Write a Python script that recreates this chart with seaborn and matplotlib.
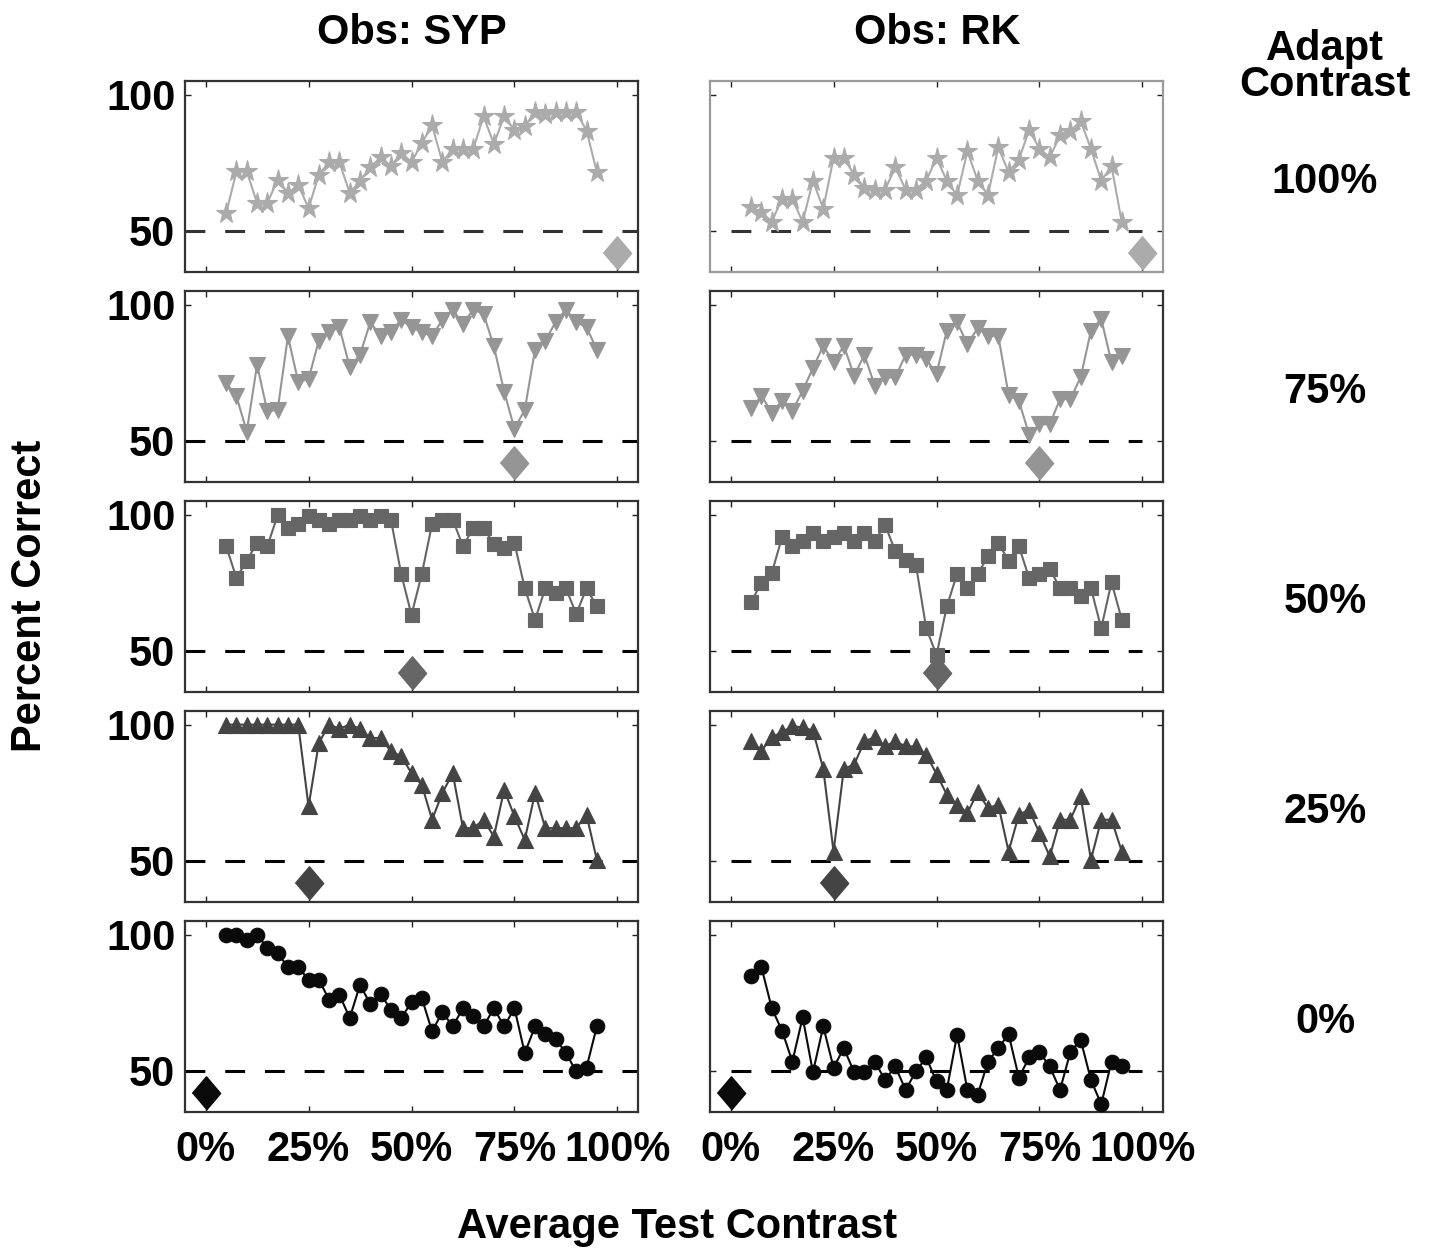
import matplotlib
matplotlib.use("Agg")
import matplotlib.pyplot as plt
import seaborn as sns

# average test contrast (%) of each test block
test_contrast = [5, 7.5, 10, 12.5, 15, 17.5, 20, 22.5, 25, 27.5, 30, 32.5, 35,
                 37.5, 40, 42.5, 45, 47.5, 50, 52.5, 55, 57.5, 60, 62.5, 65,
                 67.5, 70, 72.5, 75, 77.5, 80, 82.5, 85, 87.5, 90, 92.5, 95]

adapt_contrast = [100, 75, 50, 25, 0]
adapt_labels = ["100%", "75%", "50%", "25%", "0%"]
observers = ["SYP", "RK"]
chance_level = 50
x_ticks = [0, 25, 50, 75, 100]
x_ticklabels = ["0%", "25%", "50%", "75%", "100%"]
y_ticks = [50, 100]

# percent correct, observer SYP
syp_100 = [56.5, 71.8, 71.8, 60.2, 60.2, 68.8, 63.8, 66.9, 58.3, 70.6, 75.2, 75.2, 63.8,
           68.4, 73.3, 77.0, 73.7, 78.6, 75.2, 82.2, 88.7, 75.2, 80.1, 80.1, 80.1,
           92.0, 81.9, 92.0, 87.1, 88.4, 93.6, 92.9, 93.6, 93.6, 93.6, 86.8, 71.6]
syp_75 = [71.2, 66.3, 53.4, 77.9, 60.8, 61.4, 88.4, 71.6, 72.7, 86.8, 90.0, 91.7, 77.0,
          81.6, 93.6, 88.4, 90.0, 94.5, 91.7, 90.0, 88.4, 94.5, 98.2, 92.9, 98.2,
          96.6, 84.7, 68.1, 54.4, 61.4, 83.5, 86.8, 93.6, 98.2, 93.6, 91.7, 83.5]
syp_50 = [88.4, 76.7, 83.1, 89.6, 88.4, 99.8, 95.1, 96.6, 99.4, 98.2, 96.6, 98.2, 98.2,
          99.4, 98.2, 99.4, 98.2, 78.2, 63.2, 78.2, 96.6, 98.2, 98.2, 88.4, 95.1,
          95.1, 89.2, 87.7, 89.6, 73.0, 61.4, 73.0, 71.2, 73.0, 63.5, 73.0, 66.3]
syp_25 = [100, 100, 100, 100, 100, 100, 100, 100, 70.0, 93.3, 100, 98.5, 100,
          98.5, 95.1, 95.1, 90.2, 88.4, 82.2, 77.9, 65.1, 74.9, 82.2, 62.0, 62.0,
          65.1, 58.9, 76.1, 66.3, 57.7, 74.9, 62.0, 62.0, 62.0, 62.0, 66.9, 50.4]
syp_0 = [99.8, 99.8, 98.2, 100, 95.1, 93.3, 88.0, 88.0, 83.5, 83.5, 76.1, 77.9, 69.4,
         81.6, 74.5, 78.2, 72.4, 69.4, 75.2, 76.7, 64.5, 71.6, 66.3, 73.0, 70.0,
         66.3, 73.0, 66.3, 73.0, 56.5, 66.3, 63.5, 61.8, 56.5, 49.8, 51.2, 66.3]

# percent correct, observer RK
rk_100 = [58.6, 56.9, 53.4, 61.8, 61.8, 53.2, 68.4, 58.1, 76.7, 76.7, 70.6, 65.7, 65.1,
          65.1, 73.3, 65.1, 65.1, 68.4, 76.7, 68.4, 63.0, 79.2, 68.4, 63.2, 80.6,
          71.6, 76.1, 87.1, 80.1, 77.0, 85.0, 86.5, 90.4, 80.1, 68.4, 73.7, 53.2]
rk_75 = [62.0, 66.5, 60.4, 64.7, 61.0, 68.4, 76.7, 84.9, 78.8, 84.9, 73.9, 81.6, 70.2,
         73.3, 73.3, 81.6, 81.6, 80.0, 74.5, 90.4, 93.5, 85.5, 91.4, 88.6, 88.6,
         66.9, 64.7, 52.2, 56.1, 56.1, 65.3, 65.3, 73.3, 90.4, 94.7, 78.8, 81.3]
rk_50 = [68.1, 74.9, 78.6, 91.7, 88.4, 90.2, 93.3, 90.2, 91.7, 93.3, 90.2, 93.3, 90.2,
         96.3, 86.5, 83.5, 81.6, 58.3, 48.5, 66.3, 78.2, 73.0, 78.2, 84.7, 89.6,
         83.1, 88.4, 76.7, 78.2, 80.1, 73.0, 73.0, 70.0, 73.0, 58.3, 75.2, 61.4]
rk_25 = [93.9, 90.4, 95.3, 97.3, 99.4, 99.0, 97.8, 83.8, 53.4, 83.8, 85.3, 93.9, 95.3,
         92.0, 93.9, 92.0, 92.0, 89.0, 81.9, 74.3, 70.6, 67.5, 75.2, 69.4, 70.6,
         53.4, 66.9, 68.8, 60.2, 51.6, 65.1, 65.1, 73.7, 50.4, 65.1, 65.1, 53.4]
rk_0 = [84.7, 88.0, 73.0, 64.7, 53.4, 69.6, 49.5, 66.3, 51.2, 58.3, 49.5, 49.5, 53.4,
        46.7, 51.6, 43.0, 49.8, 54.9, 46.1, 43.0, 63.2, 43.0, 41.2, 53.4, 58.3,
        63.5, 47.5, 54.9, 56.9, 51.6, 43.0, 56.9, 61.4, 46.7, 37.7, 53.4, 51.6]

# position of the adapting-contrast diamond under the curves
diamond_level = 41.8

syp_data = [syp_100, syp_75, syp_50, syp_25, syp_0]
rk_data = [rk_100, rk_75, rk_50, rk_25, rk_0]

row_colors = ["#ababab", "#959595", "#666666", "#444444", "#0a0a0a"]
row_markers = ["*", "v", "s", "^", "o"]
row_msizes = [15.5, 12, 10, 12, 10.5]
diamond_verts = [(-0.85, 0), (0, 1), (0.85, 0), (0, -1)]

sns.set_style("ticks")
plt.rcParams["font.family"] = ["Liberation Sans", "DejaVu Sans"]
plt.rcParams["font.weight"] = "bold"
plt.rcParams["text.color"] = "black"

fig = plt.figure(figsize=(14.35, 12.56), dpi=100)
W, H = 1435.0, 1256.0
col_left = [185, 710]
ax_w, ax_h = 453, 190.7
row_bottom = [271.7 + 210 * k for k in range(5)]

for r in range(5):
    for c in range(2):
        ax = fig.add_axes([col_left[c] / W, 1 - row_bottom[r] / H, ax_w / W, ax_h / H])
        values = (syp_data if c == 0 else rk_data)[r]
        color = row_colors[r]

        # chance level
        x0, x1 = (-5, 105) if c == 0 else (0, 100)
        ax.hlines(chance_level, x0, x1, colors="#333333" if r == 0 else "black",
                  linewidth=2.2, linestyles=(0, (6.5, 6.5)), zorder=1)

        sns.lineplot(x=test_contrast, y=values, ax=ax, color=color, linewidth=1.5,
                     marker=row_markers[r], markersize=row_msizes[r],
                     markeredgecolor=color, markeredgewidth=0.8, zorder=3)
        ax.plot([adapt_contrast[r]], [diamond_level], marker=diamond_verts, markersize=24,
                color=color, markeredgecolor=color, linestyle="none", zorder=4,
                clip_on=False)

        ax.set_xlim(-5, 105)
        ax.set_ylim(35, 105)
        ax.set_xticks(x_ticks)
        ax.set_yticks(y_ticks)
        ax.tick_params(direction="in", length=4, width=1, top=True, right=True,
                       labelsize=30, pad=7, colors="#222222", labelcolor="black")
        ax.tick_params(axis="x", pad=13)
        if r == 4:
            ax.set_xticklabels(x_ticklabels, fontweight="bold")
        else:
            ax.set_xticklabels([])
        if c == 0:
            ax.set_yticklabels([str(v) for v in y_ticks], fontweight="bold")
        else:
            ax.set_yticklabels([])
        for sp in ax.spines.values():
            sp.set_linewidth(1.6)
            sp.set_color("#9a9a9a" if (r == 0 and c == 1) else "#333333")
            sp.set_visible(True)

    fig.text(1325 / W, 1 - (row_bottom[r] - ax_h / 2 + 6) / H, adapt_labels[r],
             ha="center", va="center", fontsize=30, fontweight="bold")

fig.text(412 / W, 1 - 33 / H, "Obs: " + observers[0], ha="center", va="center",
         fontsize=30, fontweight="bold")
fig.text(937 / W, 1 - 33 / H, "Obs: " + observers[1], ha="center", va="center",
         fontsize=30, fontweight="bold")
fig.text(1325 / W, 1 - 67 / H, "Adapt\nContrast", ha="center", va="center",
         fontsize=30, fontweight="bold", linespacing=0.85)
fig.text(30 / W, 1 - 596 / H, "Percent Correct", ha="center", va="center",
         rotation=90, fontsize=30, fontweight="bold")
fig.text(677 / W, 1 - 1227 / H, "Average Test Contrast", ha="center", va="center",
         fontsize=30, fontweight="bold")

fig.savefig("out.png", dpi=100, facecolor="white")
